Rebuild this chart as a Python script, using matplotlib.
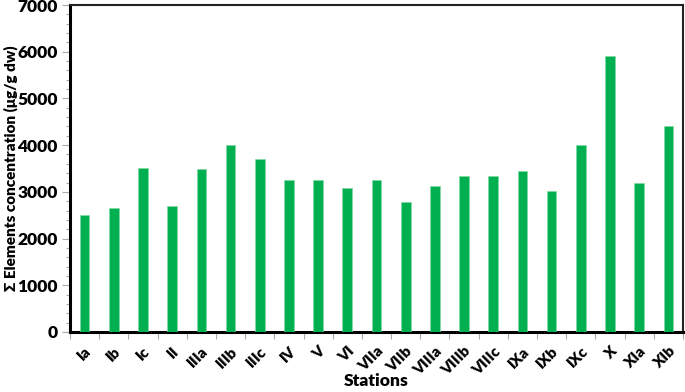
import matplotlib
matplotlib.use("Agg")
import matplotlib.pyplot as plt
from matplotlib.ticker import MultipleLocator

plt.rcParams['font.family'] = ['Lato', 'DejaVu Sans']
plt.rcParams['font.weight'] = 'bold'

stations = ["Ia", "Ib", "Ic", "II", "IIIa", "IIIb", "IIIc", "IV", "V", "VI", "VIIa",
            "VIIb", "VIIIa", "VIIIb", "VIIIc", "IXa", "IXb", "IXc", "X", "XIa", "XIb"]
concentration = [2510, 2660, 3510, 2700, 3490, 4000, 3700, 3255, 3260, 3085, 3260,
                 2790, 3130, 3340, 3340, 3450, 3020, 4010, 5910, 3190, 4420]

fig = plt.figure(figsize=(6.85, 3.92), dpi=100)
ax = fig.add_axes([70/685, 60/392, 613/685, 327/392])

x = list(range(len(stations)))
ax.bar(x, concentration, width=0.33, color="#00B050", edgecolor="#7fd8a0", linewidth=0.4, zorder=3)

ax.set_xlim(-0.5, len(stations) - 0.5)
ax.set_ylim(0, 7000)
ax.yaxis.set_major_locator(MultipleLocator(1000))
ax.yaxis.set_minor_locator(MultipleLocator(200))
ax.set_xticks(x)
ax.set_xticks([i - 0.5 for i in range(len(stations) + 1)], minor=True)
ax.set_xticklabels(stations, rotation=45, ha="right", rotation_mode="anchor",
                   fontsize=11, fontweight="heavy")
ax.tick_params(axis="x", which="major", length=0, pad=9)
ax.tick_params(axis="x", which="minor", length=5, width=0.8, color="#aaaaaa", direction="out")
ax.tick_params(axis="y", which="major", length=6, width=0.8, color="#aaaaaa", labelsize=12.5, pad=3)
ax.tick_params(axis="y", which="minor", length=3, width=0.8, color="#aaaaaa")
for lbl in ax.get_yticklabels():
    lbl.set_fontweight("heavy")

for side in ["left", "bottom"]:
    ax.spines[side].set_linewidth(2.2)
    ax.spines[side].set_color("black")
for side in ["top", "right"]:
    ax.spines[side].set_linewidth(1.5)
    ax.spines[side].set_color("#222222")

ax.set_ylabel("Σ Elements concentration (μg/g dw)", fontsize=11, fontweight="heavy")
ax.yaxis.set_label_coords(-52/613, 0.5)
ax.set_xlabel("Stations", fontsize=12.5, fontweight="heavy")
ax.xaxis.set_label_coords(0.5, -41/327)

fig.savefig("out.png", dpi=100)
